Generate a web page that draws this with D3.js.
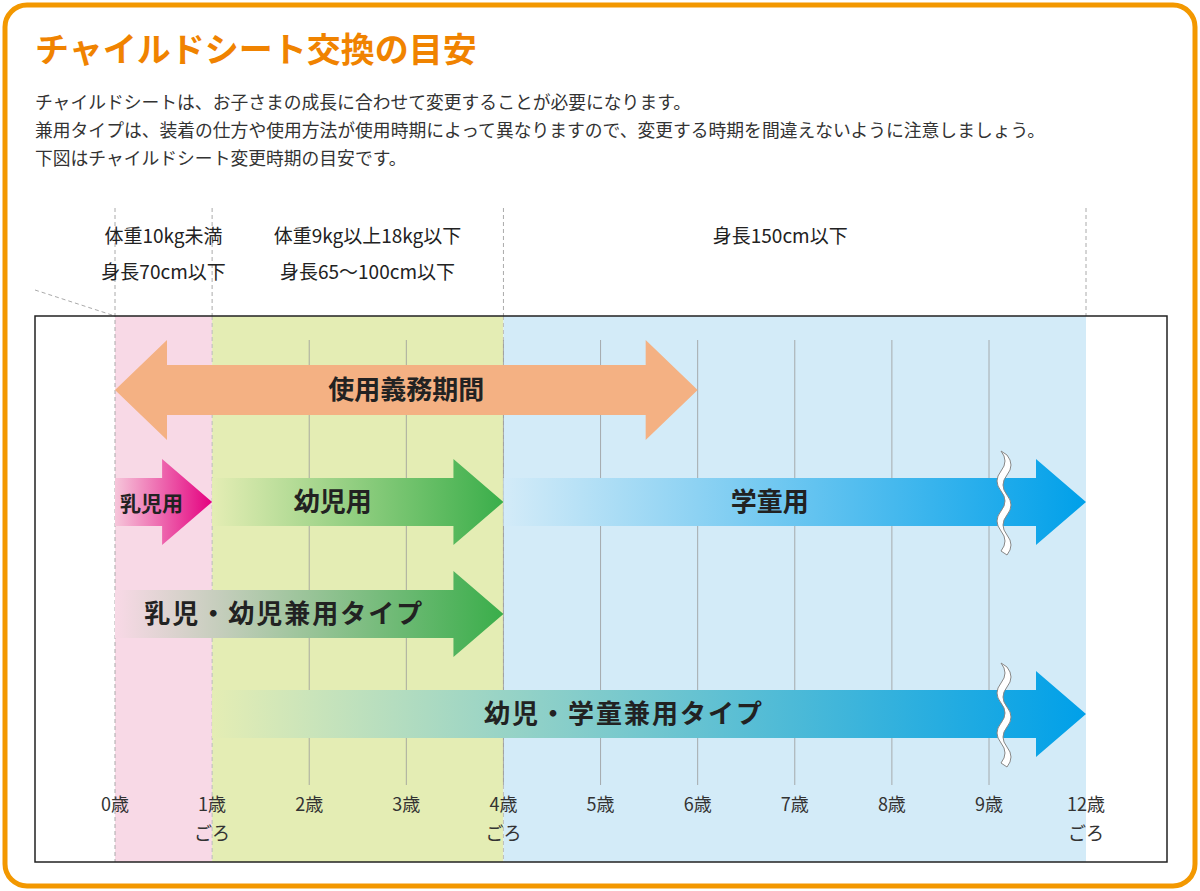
<!DOCTYPE html><html><head><meta charset="utf-8"><script src="https://cdn.jsdelivr.net/npm/d3@7"></script>
<style>body{margin:0;background:#fff}svg{font-family:"Noto Sans CJK JP",sans-serif}</style></head><body>
<svg id="c" width="1200" height="891"></svg>
<script>
const ageLabels=["0歳","1歳","2歳","3歳","4歳","5歳","6歳","7歳","8歳","9歳","12歳"];
const subLabels={1:"ごろ",4:"ごろ",10:"ごろ"};
const zones=[{from:0,to:1,color:"#f8d9e6"},{from:1,to:4,color:"#e4edb4"},{from:4,to:10,color:"#d3ebf8"}];
const zoneTexts=[{at:0.5,lines:["体重10kg未満","身長70cm以下"]},{at:2.6,lines:["体重9kg以上18kg以下","身長65～100cm以下"]},{at:6.85,lines:["身長150cm以下"]}];
const arrows=[
 {label:"使用義務期間",from:0,to:6,row:0,c0:"#f4b183",c1:"#f4b183",double:true},
 {label:"乳児用",from:0,to:1,row:1,c0:"#f6c6da",c1:"#e4007f"},
 {label:"幼児用",from:1,to:4,row:1,c0:"#e4edb4",c1:"#3aae4a"},
 {label:"学童用",from:4,to:10,row:1,c0:"#d3ebf8",c1:"#00a0e9",brk:true},
 {label:"乳児・幼児兼用タイプ",from:0,to:4,row:2,c0:"#f8d9e6",c1:"#3aae4a"},
 {label:"幼児・学童兼用タイプ",from:1,to:10,row:3,c0:"#e4edb4",c1:"#00a0e9",brk:true}];
const rowY=[390,502,614,714];
const svg=d3.select("#c");
const x=d3.scaleLinear().domain([0,9]).range([115,989]);
const X=i=>i===10?1086:x(i);
svg.append("rect").attr("x",5).attr("y",5).attr("width",1190).attr("height",881).attr("rx",22).attr("fill","#fff").attr("stroke","#f39800").attr("stroke-width",5);
svg.append("text").attr("x",35).attr("y",62).attr("fill","#f08300").attr("font-size",34).attr("font-weight","bold").text("チャイルドシート交換の目安");
["チャイルドシートは、お子さまの成長に合わせて変更することが必要になります。","兼用タイプは、装着の仕方や使用方法が使用時期によって異なりますので、変更する時期を間違えないように注意しましょう。","下図はチャイルドシート変更時期の目安です。"].forEach((t,i)=>svg.append("text").attr("x",35).attr("y",109+i*28).attr("font-size",17.8).attr("fill","#333").text(t));
zones.forEach(z=>svg.append("rect").attr("x",X(z.from)).attr("y",316).attr("width",X(z.to)-X(z.from)).attr("height",546).attr("fill",z.color));
[0,1,4,10].forEach(i=>svg.append("line").attr("x1",X(i)).attr("x2",X(i)).attr("y1",208).attr("y2",i===0?862:316).attr("stroke","#aaa").attr("stroke-dasharray","4,3"));
[1,4].forEach(i=>svg.append("line").attr("x1",X(i)).attr("x2",X(i)).attr("y1",316).attr("y2",862).attr("stroke","#bbb").attr("stroke-dasharray","4,3"));
svg.append("line").attr("x1",35).attr("y1",290).attr("x2",115).attr("y2",316).attr("stroke","#aaa").attr("stroke-dasharray","4,3");
d3.range(2,10).forEach(i=>svg.append("line").attr("x1",X(i)).attr("x2",X(i)).attr("y1",340).attr("y2",785).attr("stroke","#999").attr("stroke-width",0.8));
svg.append("rect").attr("x",35).attr("y",316).attr("width",1132).attr("height",546).attr("fill","none").attr("stroke","#222").attr("stroke-width",1.5);
zoneTexts.forEach(z=>z.lines.forEach((l,j)=>svg.append("text").attr("x",X(z.at)).attr("y",243+j*36).attr("text-anchor","middle").attr("font-size",19).attr("fill","#222").text(l)));
ageLabels.forEach((l,i)=>{svg.append("text").attr("x",X(i)).attr("y",811).attr("text-anchor","middle").attr("font-size",18).attr("fill","#333").text(l);
 if(subLabels[i])svg.append("text").attr("x",X(i)).attr("y",840).attr("text-anchor","middle").attr("font-size",18).attr("fill","#333").text(subLabels[i]);});
const defs=svg.append("defs");
arrows.forEach((a,k)=>{
 const g=defs.append("linearGradient").attr("id","g"+k).attr("gradientUnits","userSpaceOnUse").attr("x1",X(a.from)).attr("x2",X(a.to)).attr("y1",0).attr("y2",0);
 g.append("stop").attr("offset",0).attr("stop-color",a.c0);g.append("stop").attr("offset",1).attr("stop-color",a.c1);
 const y=rowY[a.row],x0=X(a.from),x1=X(a.to),bh=a.double?25:24,hh=a.double?50:43,hl=a.double?52:50;
 let p;
 if(a.double)p=[[x0,y],[x0+hl,y-hh],[x0+hl,y-bh],[x1-hl,y-bh],[x1-hl,y-hh],[x1,y],[x1-hl,y+hh],[x1-hl,y+bh],[x0+hl,y+bh],[x0+hl,y+hh]];
 else p=[[x0,y-bh],[x1-hl,y-bh],[x1-hl,y-hh],[x1,y],[x1-hl,y+hh],[x1-hl,y+bh],[x0,y+bh]];
 svg.append("path").attr("d","M"+p.join("L")+"Z").attr("fill",`url(#g${k})`);
 if(a.brk){const bx=1005;svg.append("path").attr("d",`M${bx-4},${y-hh-8} q8,10 0,20 q-8,10 0,20 q8,10 0,20 q-8,10 0,20 q8,10 0,20 L${bx+2},${y+hh+10} q8,-10 0,-20 q-8,-10 0,-20 q8,-10 0,-20 q-8,-10 0,-20 q8,-10 0,-20Z`).attr("fill","#fff").attr("stroke","#888").attr("stroke-width",1);}
 const cx=a.double?(x0+x1)/2:(a.to-a.from<=1?(x0+x1)/2-12:(x0+x1-hl)/2);
 svg.append("text").attr("x",cx).attr("y",y+9).attr("text-anchor","middle").attr("font-size",a.to-a.from<=1?21:26).attr("font-weight","bold").attr("fill","#222").attr("letter-spacing",a.label.length>6?2:0).text(a.label);
});
</script></body></html>
